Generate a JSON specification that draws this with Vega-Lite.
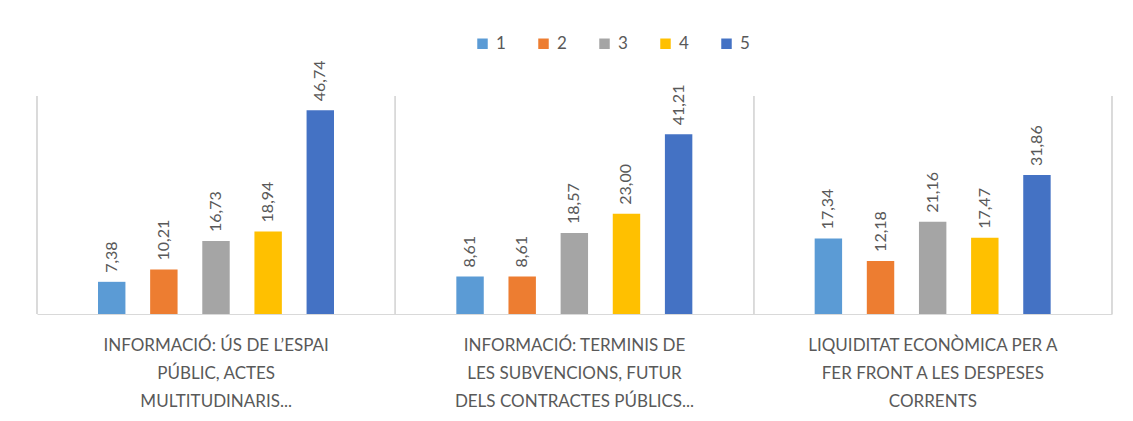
{
  "$schema": "https://vega.github.io/schema/vega-lite/v6.json",
  "autosize": "none",
  "padding": {"left": 37, "top": 96, "right": 21, "bottom": 107},
  "width": 1075,
  "height": 218,
  "background": "white",
  "config": {
    "view": {"stroke": null},
    "font": "Lato",
    "locale": {"number": {"decimal": ",", "thousands": ".", "grouping": [3], "currency": ["", " €"]}}
  },
  "data": {
    "values": [
      {"cat": "INFORMACIÓ: ÚS DE L’ESPAI PÚBLIC, ACTES MULTITUDINARIS...", "serie": "1", "value": 7.38},
      {"cat": "INFORMACIÓ: ÚS DE L’ESPAI PÚBLIC, ACTES MULTITUDINARIS...", "serie": "2", "value": 10.21},
      {"cat": "INFORMACIÓ: ÚS DE L’ESPAI PÚBLIC, ACTES MULTITUDINARIS...", "serie": "3", "value": 16.73},
      {"cat": "INFORMACIÓ: ÚS DE L’ESPAI PÚBLIC, ACTES MULTITUDINARIS...", "serie": "4", "value": 18.94},
      {"cat": "INFORMACIÓ: ÚS DE L’ESPAI PÚBLIC, ACTES MULTITUDINARIS...", "serie": "5", "value": 46.74},
      {"cat": "INFORMACIÓ: TERMINIS DE LES SUBVENCIONS, FUTUR DELS CONTRACTES PÚBLICS...", "serie": "1", "value": 8.61},
      {"cat": "INFORMACIÓ: TERMINIS DE LES SUBVENCIONS, FUTUR DELS CONTRACTES PÚBLICS...", "serie": "2", "value": 8.61},
      {"cat": "INFORMACIÓ: TERMINIS DE LES SUBVENCIONS, FUTUR DELS CONTRACTES PÚBLICS...", "serie": "3", "value": 18.57},
      {"cat": "INFORMACIÓ: TERMINIS DE LES SUBVENCIONS, FUTUR DELS CONTRACTES PÚBLICS...", "serie": "4", "value": 23.00},
      {"cat": "INFORMACIÓ: TERMINIS DE LES SUBVENCIONS, FUTUR DELS CONTRACTES PÚBLICS...", "serie": "5", "value": 41.21},
      {"cat": "LIQUIDITAT ECONÒMICA PER A FER FRONT A LES DESPESES CORRENTS", "serie": "1", "value": 17.34},
      {"cat": "LIQUIDITAT ECONÒMICA PER A FER FRONT A LES DESPESES CORRENTS", "serie": "2", "value": 12.18},
      {"cat": "LIQUIDITAT ECONÒMICA PER A FER FRONT A LES DESPESES CORRENTS", "serie": "3", "value": 21.16},
      {"cat": "LIQUIDITAT ECONÒMICA PER A FER FRONT A LES DESPESES CORRENTS", "serie": "4", "value": 17.47},
      {"cat": "LIQUIDITAT ECONÒMICA PER A FER FRONT A LES DESPESES CORRENTS", "serie": "5", "value": 31.86}
    ]
  },
  "encoding": {
    "x": {
      "field": "cat", "type": "nominal", "sort": null,
      "scale": {"paddingInner": 0, "paddingOuter": 0},
      "axis": {
        "title": null, "labelAngle": 0, "ticks": false, "grid": false,
        "domain": true, "domainColor": "#d9d9d9", "domainWidth": 1,
        "labelFontSize": 17, "labelColor": "#595959", "labelLimit": 0,
        "labelPadding": 31, "labelBaseline": "middle", "labelLineHeight": 28,
        "labelExpr": "datum.value == 'INFORMACIÓ: ÚS DE L’ESPAI PÚBLIC, ACTES MULTITUDINARIS...' ? ['INFORMACIÓ: ÚS DE L’ESPAI', 'PÚBLIC, ACTES', 'MULTITUDINARIS...'] : datum.value == 'INFORMACIÓ: TERMINIS DE LES SUBVENCIONS, FUTUR DELS CONTRACTES PÚBLICS...' ? ['INFORMACIÓ: TERMINIS DE', 'LES SUBVENCIONS, FUTUR', 'DELS CONTRACTES PÚBLICS...'] : ['LIQUIDITAT ECONÒMICA PER A', 'FER FRONT A LES DESPESES', 'CORRENTS']"
      }
    }
  },
  "layer": [
    {
      "mark": {"type": "rule", "color": "#d9d9d9", "strokeWidth": 1},
      "encoding": {"x": {"field": "cat", "type": "nominal", "sort": null, "bandPosition": 0}}
    },
    {
      "mark": {"type": "rule", "color": "#d9d9d9", "strokeWidth": 1},
      "encoding": {"x": {"field": "cat", "type": "nominal", "sort": null, "bandPosition": 1}}
    },
    {
      "mark": {"type": "bar"},
      "encoding": {
        "xOffset": {"field": "serie", "type": "nominal", "scale": {"range": [61, 297], "paddingInner": 0.474, "paddingOuter": 0}},
        "y": {"field": "value", "type": "quantitative", "scale": {"domain": [0, 50]}, "axis": null},
        "color": {
          "field": "serie", "type": "nominal",
          "scale": {"domain": ["1", "2", "3", "4", "5"], "range": ["#5B9BD5", "#ED7D31", "#A5A5A5", "#FFC000", "#4472C4"]},
          "legend": {
            "title": null, "orient": "none", "direction": "horizontal",
            "legendX": 437, "legendY": -61, "padding": 0,
            "symbolType": "square", "symbolSize": 110, "symbolStrokeWidth": 0,
            "labelFontSize": 17, "labelColor": "#595959", "labelOffset": 5,
            "columnPadding": 29
          }
        }
      }
    },
    {
      "mark": {"type": "text", "angle": 270, "align": "left", "baseline": "middle", "dx": 9, "fontSize": 16, "color": "#595959"},
      "encoding": {
        "xOffset": {"field": "serie", "type": "nominal", "scale": {"range": [61, 297], "paddingInner": 0.474, "paddingOuter": 0}},
        "y": {"field": "value", "type": "quantitative"},
        "text": {"field": "value", "type": "quantitative", "format": ".2f"}
      }
    }
  ]
}
